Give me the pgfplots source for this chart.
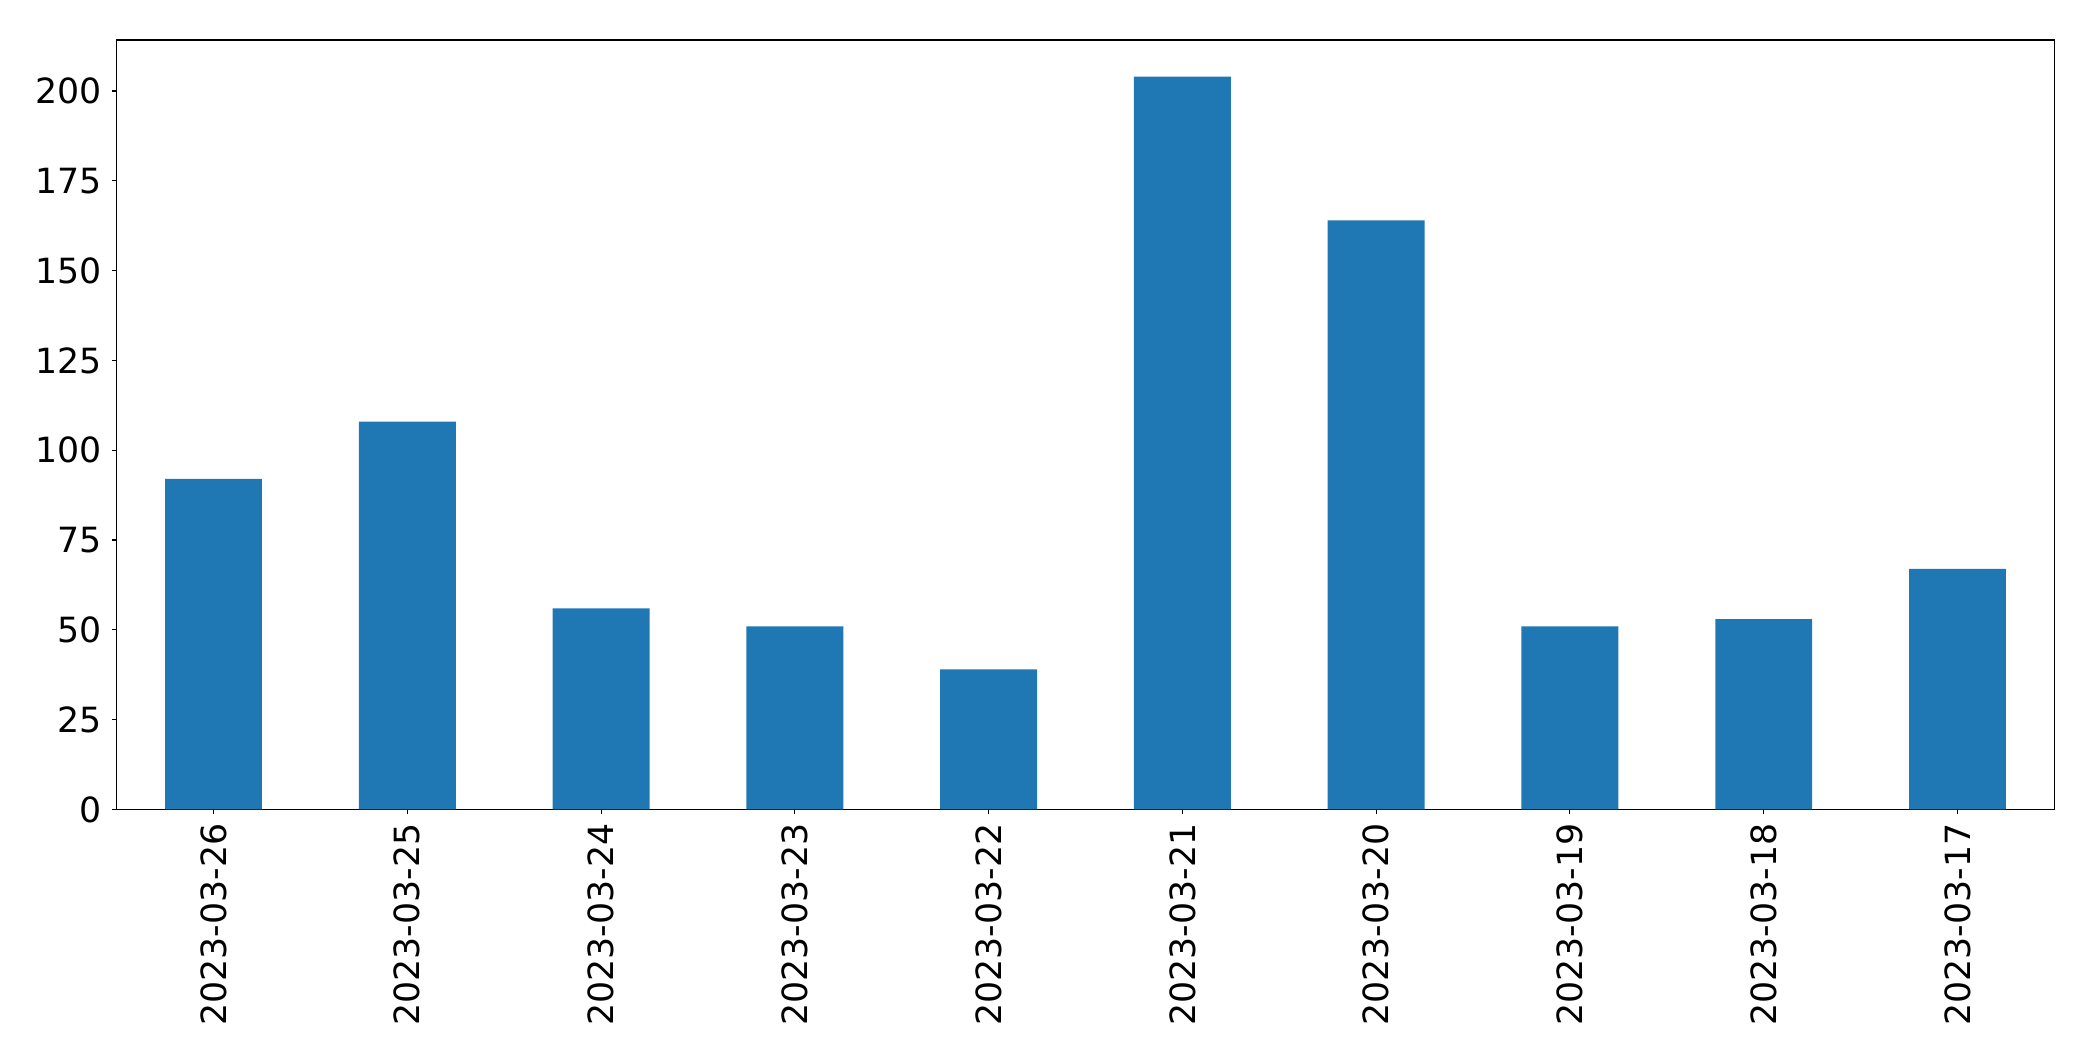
\documentclass[border=0pt]{standalone}
\usepackage{pgfplots}
\pgfplotsset{compat=1.18}
\usepackage{fontspec}
\setmainfont{DejaVu Sans}
\definecolor{mplblue}{RGB}{31,119,180}
\begin{document}
\begin{tikzpicture}
\path[use as bounding box] (-84.0bp,-181.1bp) rectangle (1422.9bp,582.8bp);
\begin{axis}[
  at={(0,0)}, anchor=south west,
  scale only axis,
  width=1395.1bp, height=554.0bp,
  xmin=-0.5, xmax=9.5,
  ymin=0, ymax=214.2,
  xtick={0,1,2,3,4,5,6,7,8,9},
  xticklabels={2023-03-26,2023-03-25,2023-03-24,2023-03-23,2023-03-22,2023-03-21,2023-03-20,2023-03-19,2023-03-18,2023-03-17},
  ytick={0,25,50,75,100,125,150,175,200},
  tick pos=left,
  tick align=outside,
  major tick length=3.5bp,
  every tick/.style={black, line width=0.8bp},
  axis line style={line width=0.8bp},
  /pgf/number format/assume math mode=true,
  ticklabel style={font=\fontsize{25bp}{30bp}\selectfont},
  xticklabel style={rotate=90, anchor=east, inner sep=0pt, xshift=-6.5bp},
  yticklabel style={anchor=east, inner sep=0pt, xshift=-7bp},
  scaled y ticks=false,
]
\addplot[ybar, bar width=0.5, fill=mplblue, draw=none] coordinates {
(0,92) (1,108) (2,56) (3,51) (4,39) (5,204) (6,164) (7,51) (8,53) (9,67)
};
\end{axis}
\end{tikzpicture}
\end{document}
